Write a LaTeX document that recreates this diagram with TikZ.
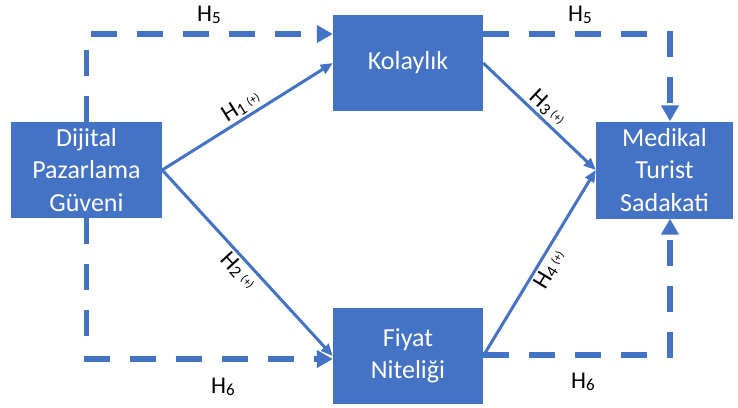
\documentclass[tikz,border=0pt]{standalone}
\usepackage{fontspec}
\setmainfont{Carlito}
\usetikzlibrary{arrows.meta}
\definecolor{ofblue}{HTML}{4472C4}
\newcommand{\hyp}[1]{H\raisebox{-0.15ex}{\fontsize{17}{17}\selectfont #1}}
\newcommand{\hyppos}[1]{\hyp{#1}\,\raisebox{0.2ex}{\fontsize{12}{12}\selectfont(+)}}
\tikzset{
  box/.style={fill=ofblue,text=white,align=center,inner sep=0pt,
    font=\fontsize{26}{32.5}\selectfont},
  solidarrow/.style={ofblue,line width=3pt,-{Triangle[length=12pt,width=10pt]}},
  dasharrow/.style={ofblue,line width=5.5pt,dash pattern=on 26pt off 20pt,
    -{Triangle[length=16pt,width=17pt]}},
  hlab/.style={text=black,font=\fontsize{24}{26}\selectfont,inner sep=2pt}
}
\begin{document}
\begin{tikzpicture}[x=1pt,y=-1pt]
         \useasboundingbox (0,0) rectangle (738,407) ;
         % boxes
         \node[box,minimum width=151pt,minimum height=96pt] (dpg) at (86.5,170) {Dijital\\Pazarlama\\Güveni} ;
         \node[box,minimum width=150pt,minimum height=96pt] (kol) at (408,63) {Kolaylık} ;
         \node[box,minimum width=150pt,minimum height=96pt] (fiy) at (408,356) {Fiyat\\Niteliği} ;
         \node[box,minimum width=137pt,minimum height=97pt] (mts) at (664.5,170) {Medikal\\Turist\\Sadakati} ;
         % corners of the dashed paths
         \coordinate (c5a) at (86,34) ;
         \coordinate (c5b) at (670,34) ;
         \coordinate (c6a) at (86,359) ;
         \coordinate (c6b) at (670,355) ;
         % H1 - H4
         \draw[solidarrow] (dpg.east) -- node[sloped,above,hlab] (h1) {\hyppos{1}} (kol.west) ;
         \draw[solidarrow] (dpg.east) -- node[sloped,below,hlab] (h2) {\hyppos{2}} (fiy.west) ;
         \draw[solidarrow] (kol.east) -- node[sloped,above,hlab] (h3) {\hyppos{3}} (mts.west) ;
         \draw[solidarrow] (fiy.east) -- node[sloped,below,hlab] (h4) {\hyppos{4}} (mts.west) ;
         % H5, H6 (dashed)
         \draw[dasharrow] (dpg.north) |- (kol.west |- c5a) ;
         \draw[dasharrow] (kol.east |- c5b) -| (mts.north -| c5b) ;
         \draw[dasharrow] (dpg.south) |- (fiy.west |- c6a) ;
         \draw[dasharrow] (fiy.east |- c6b) -| (mts.south -| c6b) ;
         \node[hlab] (h5a) at (209,15) {\hyp{5}} ;
         \node[hlab] (h5b) at (580,15) {\hyp{5}} ;
         \node[hlab] (h6a) at (223,387) {\hyp{6}} ;
         \node[hlab] (h6b) at (583,382) {\hyp{6}} ;
      \end{tikzpicture}
\end{document}
